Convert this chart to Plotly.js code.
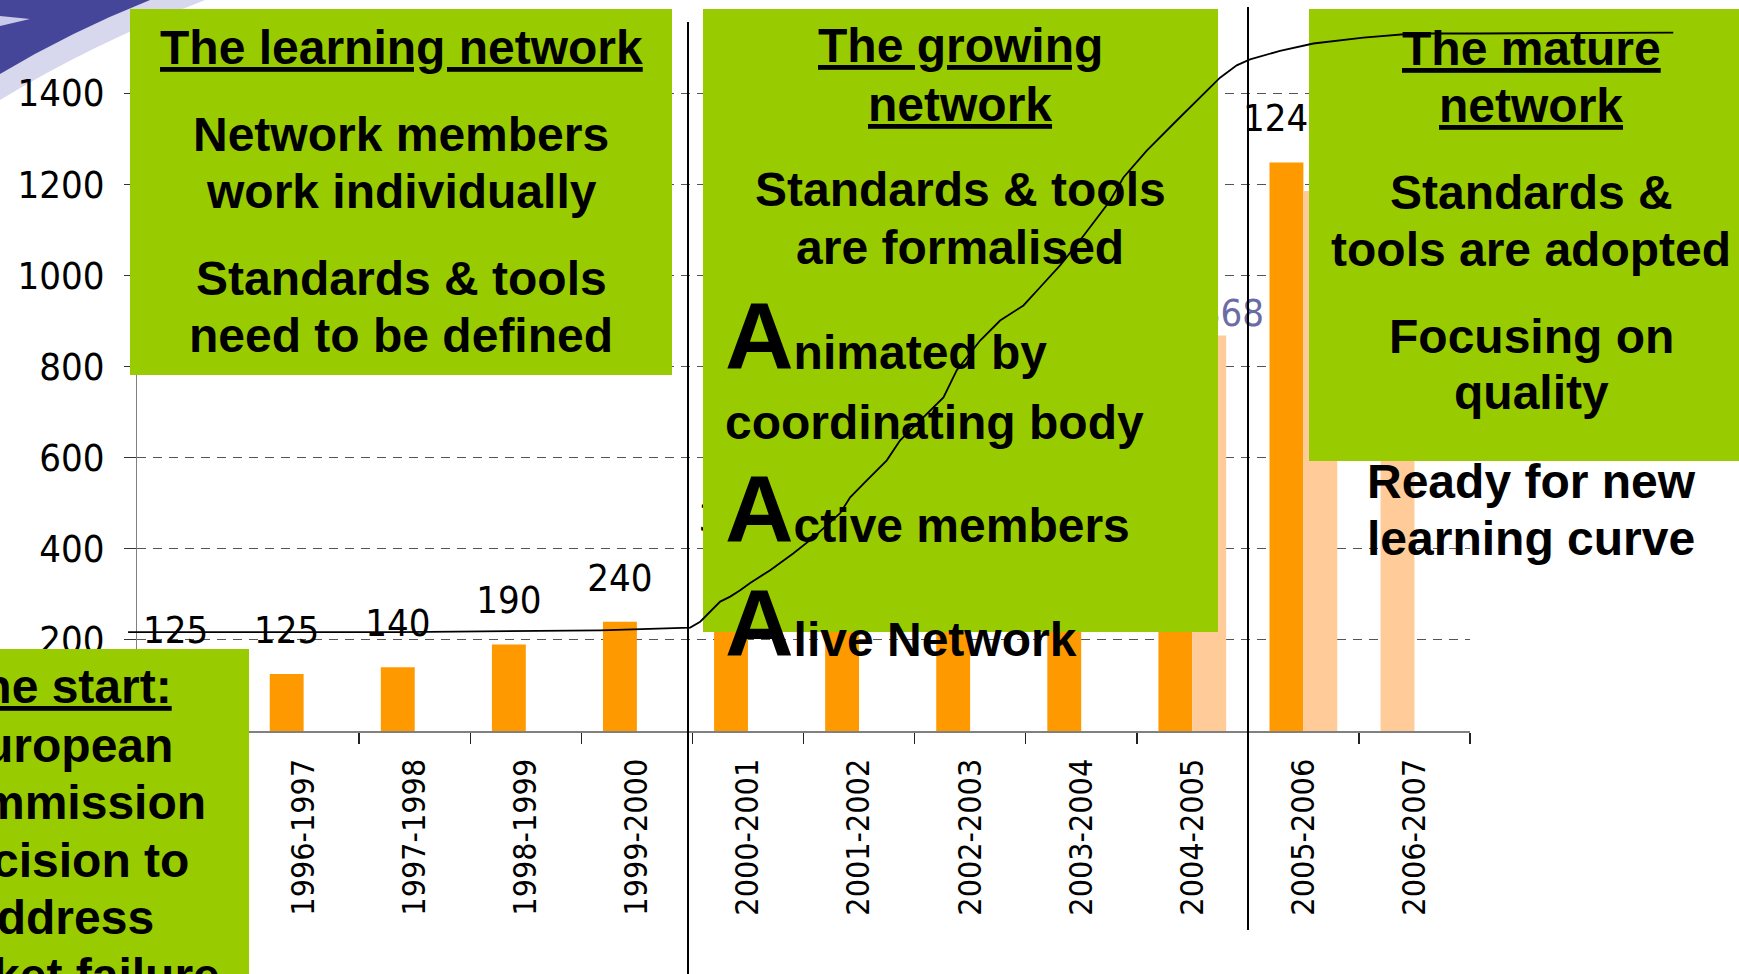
<!DOCTYPE html>
<html>
<head>
<meta charset="utf-8">
<script src="https://cdn.plot.ly/plotly-3.0.1.min.js"></script>
<style>html,body{margin:0;padding:0;background:#fff;}#chart{width:1739px;height:974px;}</style>
</head>
<body>
<div id="chart"></div>
<script>
// ---------------- data ----------------
const categories = ['1995-1996','1996-1997','1997-1998','1998-1999','1999-2000','2000-2001',
                    '2001-2002','2002-2003','2003-2004','2004-2005','2005-2006','2006-2007'];
const seriesA = [125, 125, 140, 190, 240, 370, 480, 590, 690, 990, 1248, 650];
const seriesB = [null, null, null, null, null, null, null, null, null, 868, 1185, null];
const labelsB = ['', '', '', '', '', '', '', '', '', '868', '', ''];
const projectedCategories = ['2006-2007'];
const yTickValues = [0, 200, 400, 600, 800, 1000, 1200, 1400];
// learning curve (x in category index units, y in axis units)
const curveX = [-0.58, 1.87, 3.67, 4.39, 4.48, 4.57, 4.66, 4.75, 4.84, 4.93, 5.02, 5.20, 5.41, 5.59,
                5.83, 5.92, 6.07, 6.25, 6.37, 6.49, 6.61, 6.76, 6.88, 7.09, 7.27, 7.48, 7.63, 7.81,
                7.99, 8.26, 8.38, 8.59, 8.86, 9.07, 9.25, 9.40, 9.52, 9.79, 10.09, 10.54, 10.99, 11.59, 13.33];
const curveY = [217, 217, 221, 225, 227, 240, 262, 284, 295, 309, 325, 353, 390, 425,
                478, 513, 550, 594, 638, 667, 697, 732, 792, 857, 901, 934, 974, 1022,
                1077, 1164, 1215, 1274, 1340, 1390, 1434, 1461, 1474, 1493, 1509, 1522, 1531, 1531, 1533];

// ---------------- geometry / style ----------------
const W = 1739, H = 974;
const X0 = 137, X1 = 1470, Y0 = 731, K = 0.4556, YMAX = 1500;
const CW = (X1 - X0) / categories.length;
const BARGAP = 0.39;
const ORANGE = '#FF9900', LIGHT = '#FFCC99', GREEN = '#99CC00';
const NARROW = 'Liberation Sans Narrow, Arial Narrow, DejaVu Sans Condensed, sans-serif';
const BOLD = 'Liberation Sans, Arial, sans-serif';

const idx = categories.map((c, i) => i);
const barOff = (1 - BARGAP) / 4;
const colorsA = categories.map(c => projectedCategories.includes(c) ? LIGHT : ORANGE);

const px2x = px => -0.5 + (px - X0) / CW;
const py2y = py => (Y0 - py) / K;
const pp = (px, py) => (px / W).toFixed(5) + ',' + (1 - py / H).toFixed(5);

function box(x0, x1, y0, y1) {
  return {
    type: 'scatter', mode: 'lines', xaxis: 'x2', yaxis: 'y2',
    x: [x0, x1, x1, x0, x0].map(px2x), y: [y0, y0, y1, y1, y0].map(py2y),
    fill: 'toself', fillcolor: GREEN, line: {width: 0, color: GREEN},
    hoverinfo: 'skip', showlegend: false
  };
}

const traces = [
  {type: 'bar', x: idx, y: seriesA, marker: {color: colorsA}, hoverinfo: 'skip', showlegend: false},
  {type: 'bar', x: idx, y: seriesB, marker: {color: LIGHT}, hoverinfo: 'skip', showlegend: false},
  {type: 'scatter', mode: 'markers+text', x: idx.map(i => i - barOff), y: seriesA,
   text: seriesA.map(v => v === null ? '' : String(v)), textposition: 'top center',
   marker: {size: 33, color: 'rgba(0,0,0,0)'},
   textfont: {family: NARROW, size: 38, color: '#000'}, hoverinfo: 'skip', showlegend: false},
  {type: 'scatter', mode: 'text', x: idx.map(i => i + barOff + 0.2), y: seriesB,
   text: labelsB, textposition: 'top center',
   textfont: {family: NARROW, size: 38, color: '#6B6BA5'}, hoverinfo: 'skip', showlegend: false},
  box(130, 672, 9, 375),
  box(703, 1218, 9, 632),
  box(1309, 1800, 9, 461),
  box(-250, 249, 649, 1100),
  {type: 'scatter', mode: 'lines', xaxis: 'x2', yaxis: 'y2', x: curveX, y: curveY,
   line: {color: '#000', width: 1.8}, hoverinfo: 'skip', showlegend: false}
];

function line(text, xPx, basePx, anchor, bigA) {
  const maxF = bigA ? 95 : 48;
  return {
    xref: 'paper', yref: 'paper', x: xPx / W, y: 1 - (basePx + 0.212 * maxF + 1) / H,
    xanchor: anchor, yanchor: 'bottom', showarrow: false, align: anchor === 'left' ? 'left' : 'center',
    text: '<b>' + text + '</b>', font: {family: BOLD, size: 48, color: '#000'}
  };
}
const bigA = '<span style="font-size:95px">A</span>';

const annotations = [
  line('<u>The learning network</u>', 401, 65, 'center'),
  line('Network members', 401, 152, 'center'),
  line('work individually', 401, 209, 'center'),
  line('Standards &amp; tools', 401, 296, 'center'),
  line('need to be defined', 401, 353, 'center'),

  line('<u>The growing</u>', 960, 63, 'center'),
  line('<u>network</u>', 960, 122, 'center'),
  line('Standards &amp; tools', 960, 207, 'center'),
  line('are formalised', 960, 265, 'center'),
  line(bigA + 'nimated by', 723, 370, 'left', true),
  line('coordinating body', 723, 440, 'left'),
  line(bigA + 'ctive members', 723, 543, 'left', true),
  line(bigA + 'live Network', 723, 657, 'left', true),

  line('<u>The mature</u>', 1531, 66, 'center'),
  line('<u>network</u>', 1531, 123, 'center'),
  line('Standards &amp;', 1531, 210, 'center'),
  line('tools are adopted', 1531, 267, 'center'),
  line('Focusing on', 1531, 354, 'center'),
  line('quality', 1531, 410, 'center'),
  line('Ready for new', 1531, 499, 'center'),
  line('learning curve', 1531, 556, 'center'),

  line('<u>The start:</u>', 62, 704, 'center'),
  line('European', 62, 763, 'center'),
  line('Commission', 62, 820, 'center'),
  line('decision to', 62, 878, 'center'),
  line('address', 62, 935, 'center'),
  line('market failure', 62, 993, 'center')
];

const shapes = [
  {type: 'path', xref: 'paper', yref: 'paper', layer: 'below',
   path: 'M' + pp(0, 0) + ' L' + pp(205, 0) + ' Q' + pp(90, 45) + ' ' + pp(0, 100) + ' Z',
   fillcolor: 'rgba(175,175,220,0.5)', line: {width: 0}},
  {type: 'path', xref: 'paper', yref: 'paper', layer: 'below',
   path: 'M' + pp(0, 0) + ' L' + pp(150, 0) + ' Q' + pp(70, 32) + ' ' + pp(0, 74) + ' Z',
   fillcolor: '#45459A', line: {width: 0}},
  {type: 'path', xref: 'paper', yref: 'paper', layer: 'below',
   path: 'M' + pp(0, 16) + ' L' + pp(30, 19) + ' L' + pp(0, 26) + ' Z',
   fillcolor: 'rgba(235,235,255,0.8)', line: {width: 0}},
  {type: 'line', xref: 'paper', yref: 'paper', layer: 'above',
   x0: 688 / W, x1: 688 / W, y0: 1 - 22 / H, y1: 0, line: {color: '#000', width: 2}},
  {type: 'line', xref: 'paper', yref: 'paper', layer: 'above',
   x0: 1248 / W, x1: 1248 / W, y0: 1 - 7 / H, y1: 1 - 930 / H, line: {color: '#000', width: 2}}
];

const layout = {
  width: W, height: H, margin: {l: 0, r: 0, t: 0, b: 0, pad: 0},
  paper_bgcolor: '#fff', plot_bgcolor: 'rgba(0,0,0,0)',
  showlegend: false, barmode: 'group', bargap: BARGAP,
  xaxis: {
    domain: [X0 / W, X1 / W], range: [-0.5, categories.length - 0.5], anchor: 'y',
    type: 'linear', tickmode: 'array', tickvals: idx, ticktext: categories,
    ticks: '', ticklen: 0, tickangle: -90, ticklabelstandoff: 13,
    tickfont: {family: NARROW, size: 32, color: '#000'},
    showline: true, linecolor: '#808080', linewidth: 2, showgrid: false, zeroline: false,
    minor: {tickmode: 'array', tickvals: idx.concat([categories.length - 1]).map(i => i - 0.5).concat([categories.length - 0.5]),
            ticks: 'outside', ticklen: 11, tickcolor: '#222', tickwidth: 1.5, showgrid: false},
    fixedrange: true, automargin: false
  },
  yaxis: {
    domain: [(H - Y0) / H, (H - (Y0 - YMAX * K)) / H], range: [0, YMAX], anchor: 'x',
    tickmode: 'array', tickvals: yTickValues, ticks: 'outside', ticklen: 12, tickcolor: '#333', tickwidth: 1,
    tickfont: {family: NARROW, size: 38, color: '#000'}, ticklabelstandoff: 12,
    showline: true, linecolor: '#808080', linewidth: 1,
    showgrid: true, gridcolor: '#555', gridwidth: 1, griddash: '9px,7px', zeroline: false,
    fixedrange: true, automargin: false
  },
  xaxis2: {domain: [0, 1], range: [px2x(0), px2x(W)], anchor: 'y2', visible: false, fixedrange: true},
  yaxis2: {domain: [0, 1], range: [py2y(H), py2y(0)], anchor: 'x2', visible: false, fixedrange: true},
  annotations: annotations,
  shapes: shapes
};

Plotly.newPlot('chart', traces, layout, {displayModeBar: false, staticPlot: true});
</script>
</body>
</html>
